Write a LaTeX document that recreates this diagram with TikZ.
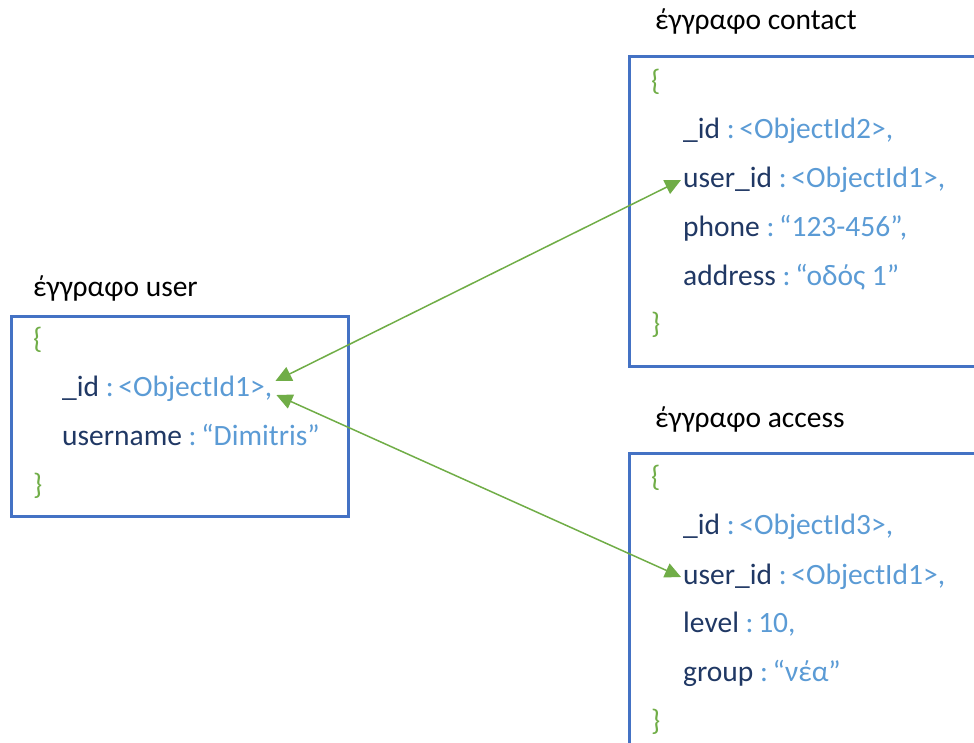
\documentclass[tikz,border=0pt]{standalone}
\usepackage{fontspec}
\setmainfont{Carlito}
\usetikzlibrary{arrows.meta}
\definecolor{boxblue}{HTML}{4472C4}
\definecolor{keyblue}{HTML}{203864}
\definecolor{valblue}{HTML}{5B9BD5}
\definecolor{brgreen}{HTML}{70AD47}
\tikzset{
  docbox/.style={draw=boxblue, line width=3pt},
  txt/.style={anchor=base west, inner sep=0pt, font=\fontsize{29.5}{35}\selectfont},
  title/.style={txt, text=black},
  brace/.style={txt, text=brgreen},
  row/.style={txt, text=keyblue},
  conn/.style={draw=brgreen, line width=1.5pt,
    {Triangle[length=16pt,width=15pt]}-{Triangle[length=16pt,width=15pt]}},
}
% value part of a field: coloured, with a narrow gap after the colon
\newcommand{\val}[1]{\textcolor{valblue}{:\hspace{0.16em}#1}}
\begin{document}
\begin{tikzpicture}[x=1pt,y=-1pt]
\useasboundingbox (0,0) rectangle (974,742);
\clip (0,0) rectangle (974,742);

% document "user"
\draw[docbox] (11,316) rectangle (348,516);
\node[title] (utitle) at (33,296) {έγγραφο user};
\node[brace] (uopen) at (33,348) {\{};
\node[row] (uid) at (62,396) {\_id \val{<ObjectId1>,}};
\node[row] (uname) at (62,445) {username \val{“Dimitris”}};
\node[brace] (uclose) at (33,494) {\}};

% document "contact"
\draw[docbox] (629,56) rectangle (990,366);
\node[title] (ctitle) at (655,29) {έγγραφο contact};
\node[brace] (copen) at (651,90) {\{};
\node[row] (cid) at (683,138) {\_id \val{<ObjectId2>,}};
\node[row] (cuid) at (683,187) {user\_id \val{<ObjectId1>,}};
\node[row] (cphone) at (683,236) {phone \val{“123-456”,}};
\node[row] (caddr) at (683,285) {address \val{“οδός 1”}};
\node[brace] (cclose) at (651,333) {\}};

% document "access"
\draw[docbox] (629,453) rectangle (990,760);
\node[title] (atitle) at (655,427) {έγγραφο access};
\node[brace] (aopen) at (651,486) {\{};
\node[row] (aid) at (683,534) {\_id \val{<ObjectId3>,}};
\node[row] (auid) at (683,584) {user\_id \val{<ObjectId1>,}};
\node[row] (alevel) at (683,632) {level \val{10,}};
\node[row] (agroup) at (683,681) {group \val{“νέα”}};
\node[brace] (aclose) at (651,730) {\}};

% references user_id -> _id
\draw[conn] ([shift={(-2pt,7pt)}]cuid.base west) -- ([shift={(3pt,15pt)}]uid.base east);
\draw[conn] ([shift={(4pt,1pt)}]uid.base east) -- ([shift={(-2pt,7pt)}]auid.base west);
\end{tikzpicture}
\end{document}
